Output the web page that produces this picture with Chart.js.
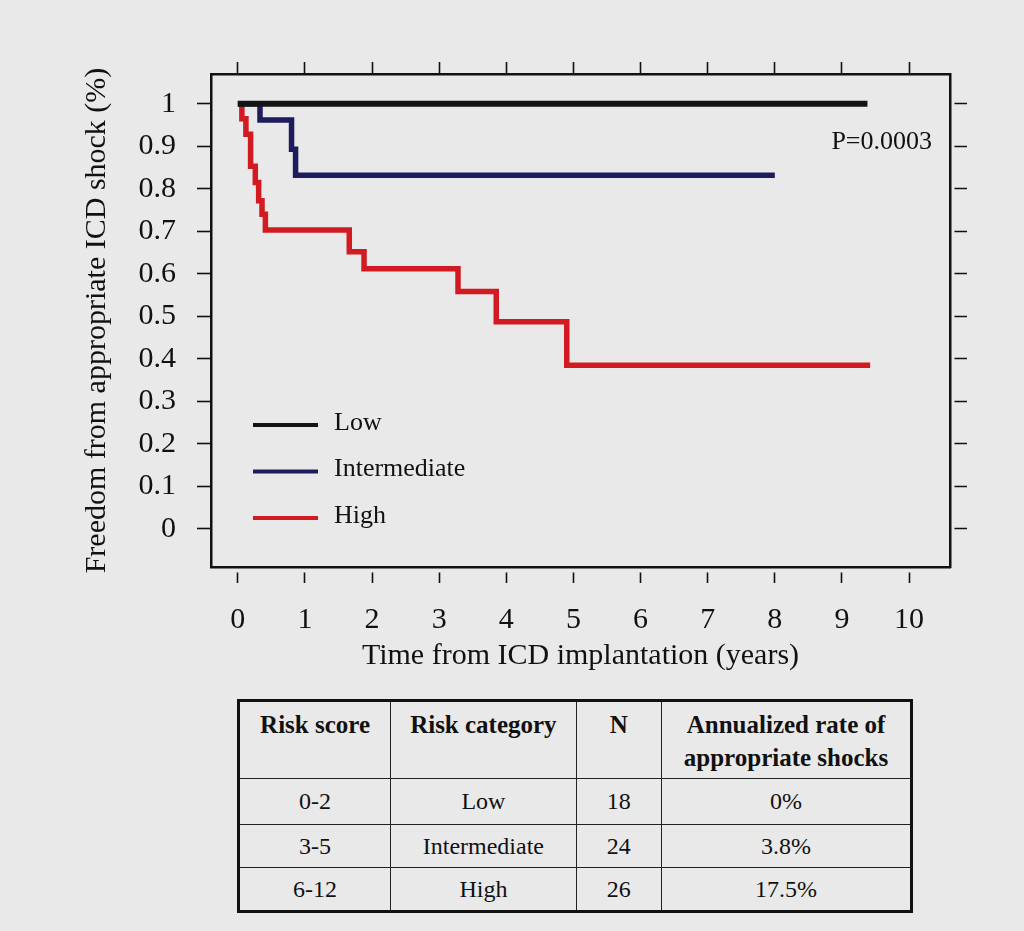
<!DOCTYPE html>
<html>
<head>
<meta charset="utf-8">
<script src="https://cdn.jsdelivr.net/npm/chart.js@4.4.1/dist/chart.umd.min.js"></script>
<style>
    body { margin: 0; background: #e9e9e9; width: 1024px; height: 931px; overflow: hidden; position: relative; font-family: "Liberation Serif", serif; color: #111; }
    #kmChart { position: absolute; left: 0; top: 0; }
    #riskTable { position: absolute; left: 237px; top: 699px; width: 676px; border-collapse: collapse; border: 3px solid #111; }
    #riskTable th, #riskTable td { border: 1.5px solid #222; text-align: center; padding: 0; }
    #riskTable th { font-size: 25px; font-weight: bold; vertical-align: top; line-height: 33px; padding-top: 6px; height: 70px; }
    #riskTable td { font-size: 24px; vertical-align: middle; }
</style>
</head>
<body>
<canvas id="kmChart" width="1024" height="690"></canvas>
<table id="riskTable">
    <colgroup><col style="width:153px"><col style="width:186px"><col style="width:86px"><col style="width:251px"></colgroup>
    <thead><tr id="tableHead"></tr></thead>
    <tbody id="tableBody"></tbody>
</table>
<script>
// Kaplan-Meier steps: time (years) / freedom from shock
let lowTimes = [0, 9.38];
let lowSurv = [1, 1];
let intTimes = [0, 0.33, 0.8, 0.86, 8.0];
let intSurv = [1, 0.962, 0.893, 0.832, 0.832];
let highTimes = [0, 0.06, 0.12, 0.19, 0.26, 0.31, 0.36, 0.41, 1.66, 1.88, 3.28, 3.85, 4.9, 9.42];
let highSurv = [1, 0.965, 0.928, 0.853, 0.815, 0.772, 0.74, 0.703, 0.652, 0.612, 0.558, 0.487, 0.385, 0.385];

let groupNames = ['Low', 'Intermediate', 'High'];
let groupColors = ['#141414', '#1d1c5c', '#d11a22'];

let xTicks = [0, 1, 2, 3, 4, 5, 6, 7, 8, 9, 10];
let yTicks = [0, 0.1, 0.2, 0.3, 0.4, 0.5, 0.6, 0.7, 0.8, 0.9, 1];
let yTickLabels = ['0', '0.1', '0.2', '0.3', '0.4', '0.5', '0.6', '0.7', '0.8', '0.9', '1'];
let pValueText = 'P=0.0003';

// table under the plot
let tableHeaders = ['Risk score', 'Risk category', 'N', 'Annualized rate of<br>appropriate shocks'];
let riskScores = ['0-2', '3-5', '6-12'];
let riskCounts = [18, 24, 26];
let shockRates = ['0%', '3.8%', '17.5%'];

const FONT = '"Liberation Serif", "Times New Roman", serif';
const INK = '#111';

function toPoints(times, surv) {
    return times.map(function(t, i) { return {x: t, y: surv[i]}; });
}

function setTicks(values) {
    return function(scale) {
        scale.ticks = values.map(function(v) { return {value: v}; });
    };
}

function fixWidth(w) {
    return function(scale) { scale.width = w; };
}

function fixHeight(h) {
    return function(scale) { scale.height = h; };
}

function axisGrid(len, dash) {
    return {
        drawOnChartArea: false,
        drawTicks: true,
        tickLength: len,
        tickColor: INK,
        tickWidth: 1.6,
        tickBorderDash: dash
    };
}

let border = {display: true, color: INK, width: 2.5};

// legend inside the plot plus the p value
const legendInside = {
    id: 'legendInside',
    afterDatasetsDraw: function(chart) {
        let ctx = chart.ctx;
        ctx.save();
        ctx.font = '26px ' + FONT;
        ctx.textBaseline = 'middle';
        ctx.textAlign = 'left';
        chart.data.datasets.forEach(function(ds, i) {
            let y = 425 + i * 46.5;
            ctx.strokeStyle = ds.borderColor;
            ctx.lineWidth = 4;
            ctx.beginPath();
            ctx.moveTo(253, y);
            ctx.lineTo(318, y);
            ctx.stroke();
            ctx.fillStyle = INK;
            ctx.fillText(ds.label, 334, y - 2);
        });
        ctx.textAlign = 'right';
        ctx.fillText(pValueText, 932, 142);
        ctx.restore();
    }
};

let datasets = [
    {label: groupNames[0], data: toPoints(lowTimes, lowSurv), borderColor: groupColors[0], borderWidth: 6},
    {label: groupNames[1], data: toPoints(intTimes, intSurv), borderColor: groupColors[1], borderWidth: 5.5},
    {label: groupNames[2], data: toPoints(highTimes, highSurv), borderColor: groupColors[2], borderWidth: 5.5}
].map(function(ds) {
    ds.stepped = 'before';
    ds.pointRadius = 0;
    ds.fill = false;
    ds.borderCapStyle = 'butt';
    ds.borderJoinStyle = 'miter';
    return ds;
});

let xMin = -0.4, xMax = 10.61, yMin = -0.09, yMax = 1.07;

new Chart(document.getElementById('kmChart'), {
    type: 'line',
    data: {datasets: datasets},
    options: {
        responsive: false,
        devicePixelRatio: 1,
        animation: false,
        layout: {padding: 0},
        plugins: {legend: {display: false}, tooltip: {enabled: false}},
        scales: {
            x: {
                type: 'linear', position: 'bottom', min: xMin, max: xMax,
                afterBuildTicks: setTicks(xTicks),
                afterFit: fixHeight(123),
                grid: axisGrid(16, [0, 4, 12, 100]),
                border: border,
                ticks: {
                    color: INK, padding: 19, maxRotation: 0, autoSkip: false,
                    font: {family: FONT, size: 30},
                    callback: function(v, i) { return String(xTicks[i]); }
                },
                title: {
                    display: true, text: 'Time from ICD implantation (years)', color: INK,
                    font: {family: FONT, size: 30}, padding: {top: 0, bottom: 16}
                }
            },
            x2: {
                type: 'linear', position: 'top', min: xMin, max: xMax,
                afterBuildTicks: setTicks(xTicks),
                afterFit: fixHeight(74),
                grid: axisGrid(12, []),
                border: border,
                ticks: {display: false}
            },
            y: {
                type: 'linear', position: 'left', min: yMin, max: yMax,
                afterBuildTicks: setTicks(yTicks),
                afterFit: fixWidth(211),
                grid: axisGrid(14, []),
                border: border,
                ticks: {
                    color: INK, padding: 21, autoSkip: false,
                    font: {family: FONT, size: 30},
                    callback: function(v, i) { return yTickLabels[i]; }
                },
                title: {
                    display: true, text: 'Freedom from appropriate ICD shock (%)', color: INK,
                    font: {family: FONT, size: 30}, padding: {top: 79, bottom: 0}
                }
            },
            y2: {
                type: 'linear', position: 'right', min: yMin, max: yMax,
                afterBuildTicks: setTicks(yTicks),
                afterFit: fixWidth(74),
                grid: axisGrid(17, [0, 3, 14, 100]),
                border: border,
                ticks: {display: false}
            }
        }
    },
    plugins: [legendInside]
});

// fill the table
let head = document.getElementById('tableHead');
tableHeaders.forEach(function(h) {
    let th = document.createElement('th');
    th.innerHTML = h;
    head.appendChild(th);
});
let body = document.getElementById('tableBody');
let rowHeights = [46, 43, 44];
riskScores.forEach(function(score, i) {
    let tr = document.createElement('tr');
    tr.style.height = rowHeights[i] + 'px';
    [score, groupNames[i], riskCounts[i], shockRates[i]].forEach(function(v) {
        let td = document.createElement('td');
        td.textContent = v;
        tr.appendChild(td);
    });
    body.appendChild(tr);
});
</script>
</body>
</html>
